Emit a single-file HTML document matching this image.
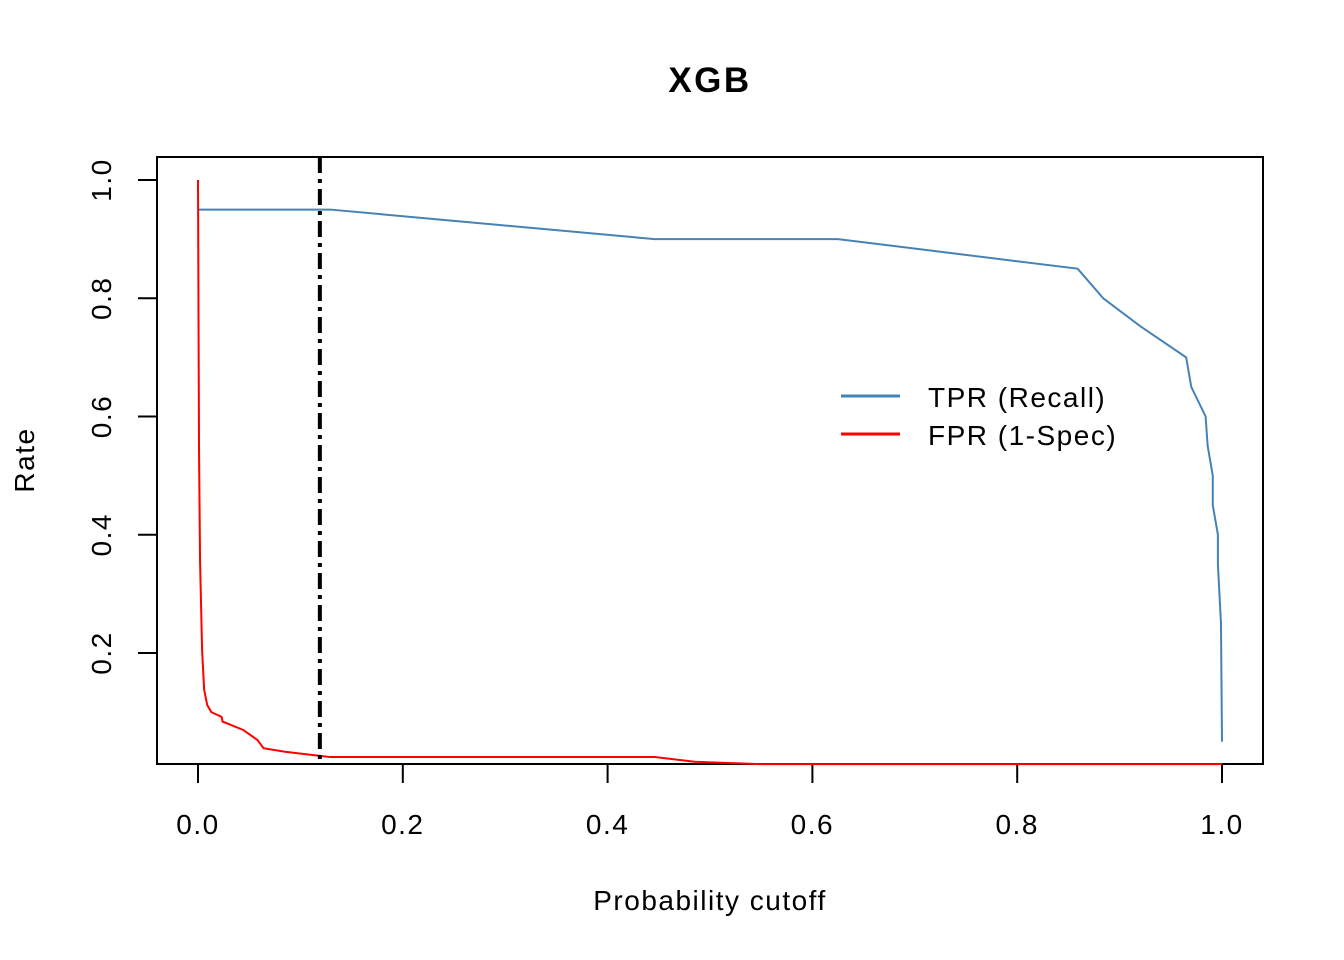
<!DOCTYPE html>
<html><head><meta charset="utf-8"><style>body{margin:0;background:#fff}svg{display:block}text{font-family:"Liberation Sans",Arial,sans-serif;letter-spacing:1.5px}</style></head>
<body>
<svg id="chart" width="1344" height="960" xmlns="http://www.w3.org/2000/svg">
<text x="710" y="92" font-size="35" font-weight="bold" text-anchor="middle" style="letter-spacing:2.5px">XGB</text>
<rect x="157" y="157" width="1106" height="607" fill="none" stroke="#000" stroke-width="2"/>
<g id="xaxis"></g>
<g id="yaxis"></g>
<text x="710" y="910" font-size="28" text-anchor="middle">Probability cutoff</text>
<text transform="translate(34,460) rotate(-90)" font-size="28" text-anchor="middle">Rate</text>
<g id="series"></g>
<g>
<line x1="841" y1="396" x2="900" y2="396" stroke="#4682B4" stroke-width="3"/>
<text x="928" y="407" font-size="28">TPR (Recall)</text>
<line x1="841" y1="434" x2="900" y2="434" stroke="#FF0000" stroke-width="3"/>
<text x="928" y="445" font-size="28">FPR (1-Spec)</text>
</g>
</svg>
<script>
const xTicks=[0,0.2,0.4,0.6,0.8,1.0];
const xTickLabels=["0.0","0.2","0.4","0.6","0.8","1.0"];
const yTicks=[0.2,0.4,0.6,0.8,1.0];
const yTickLabels=["0.2","0.4","0.6","0.8","1.0"];
const tprX=[0,0.129,0.446,0.625,0.859,0.884,0.92,0.965,0.97,0.984,0.986,0.991,0.991,0.996,0.996,0.999,1.0];
const tprY=[0.95,0.95,0.90,0.90,0.85,0.80,0.753,0.70,0.65,0.60,0.55,0.50,0.45,0.40,0.35,0.25,0.05];
const fprX=[0,0.001,0.002,0.004,0.006,0.009,0.013,0.023,0.024,0.044,0.058,0.064,0.085,0.119,0.129,0.446,0.485,0.549,1.0];
const fprY=[1.0,0.544,0.357,0.205,0.138,0.112,0.1,0.092,0.084,0.07,0.053,0.039,0.033,0.026,0.024,0.024,0.016,0.012,0.012];
const cutoff=0.119;
const NS="http://www.w3.org/2000/svg";
const sx=v=>198+v*1024, sy=v=>771.25-v*591.25;
function mk(tag,attrs,parent){const e=document.createElementNS(NS,tag);for(const k in attrs)e.setAttribute(k,attrs[k]);parent.appendChild(e);return e;}
const xa=document.getElementById('xaxis'),ya=document.getElementById('yaxis'),sr=document.getElementById('series');
xTicks.forEach((t,i)=>{
 const l=mk('line',{x1:sx(t),x2:sx(t),y1:764,y2:783,stroke:'#000','stroke-width':2},xa);
 
 
 const tx=mk('text',{x:sx(t),y:834,'font-size':28,'text-anchor':'middle'},xa);
 tx.textContent=xTickLabels[i];
 
 
});
yTicks.forEach((t,i)=>{
 const l=mk('line',{x1:138,x2:157,y1:sy(t),y2:sy(t),stroke:'#000','stroke-width':2},ya);
 
 
 const tx=mk('text',{transform:`translate(111,${sy(t)}) rotate(-90)`,'font-size':28,'text-anchor':'middle'},ya);
 tx.textContent=yTickLabels[i];
 
 
});
const pts=(X,Y)=>X.map((x,i)=>sx(x)+','+sy(Y[i])).join(' ');
const tp=mk('polyline',{points:pts(tprX,tprY),fill:'none',stroke:'#4682B4','stroke-width':2},sr);


const fp=mk('polyline',{points:pts(fprX,fprY),fill:'none',stroke:'#FF0000','stroke-width':2},sr);


const cl=mk('line',{x1:sx(cutoff),x2:sx(cutoff),y1:157,y2:764,stroke:'#000','stroke-width':4,'stroke-dasharray':'16 6 4 6'},sr);


</script>
</body></html>
